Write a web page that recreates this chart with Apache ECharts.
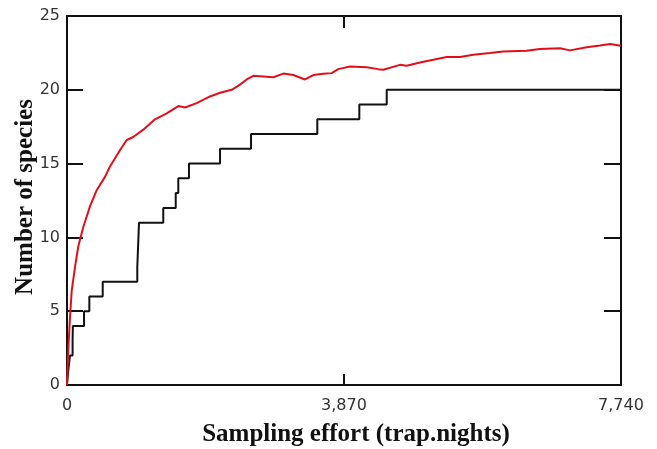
<!DOCTYPE html>
<html>
<head>
<meta charset="utf-8">
<script src="https://cdn.jsdelivr.net/npm/echarts@6/dist/echarts.min.js"></script>
<style>html,body{margin:0;padding:0;background:#fff}#c{width:657px;height:449px}</style>
</head>
<body>
<div id="c"></div>
<script>
// Observed species accumulation (step curve)
var observedEffort = [0, 18, 42, 78, 82, 238, 312, 499, 982, 1006, 1345, 1519, 1555, 1704, 2138, 2571, 3497, 4084, 4467, 7740];
var observedSpecies = [0, 1, 2, 3, 4, 5, 6, 7, 8, 11, 12, 13, 14, 15, 16, 17, 18, 19, 20, 20];
// Estimated species richness curve (red)
var estimatedEffort = [0, 18, 42, 66, 112, 158, 228, 321, 415, 531, 601, 740, 834, 926, 1066, 1229, 1393, 1555, 1649, 1812, 1998, 2138, 2301, 2417, 2511, 2603, 2743, 2882, 3022, 3162, 3325, 3441, 3581, 3698, 3790, 3954, 4187, 4349, 4419, 4652, 4746, 4932, 5117, 5305, 5491, 5676, 5909, 6095, 6422, 6608, 6888, 7027, 7261, 7447, 7586, 7740];
var estimatedSpecies = [0, 2.4, 4.6, 6.4, 8.0, 9.4, 10.7, 12.1, 13.2, 14.1, 14.8, 15.9, 16.6, 16.8, 17.3, 18.0, 18.4, 18.9, 18.8, 19.1, 19.55, 19.8, 20.0, 20.35, 20.7, 20.95, 20.9, 20.85, 21.1, 21.0, 20.7, 21.0, 21.08, 21.13, 21.4, 21.58, 21.53, 21.4, 21.36, 21.69, 21.63, 21.85, 22.03, 22.22, 22.22, 22.37, 22.49, 22.6, 22.64, 22.76, 22.82, 22.67, 22.89, 23.0, 23.1, 22.98];
var xTicks = [0, 3870, 7740];
var yTicks = [0, 5, 10, 15, 20, 25];
var xTitle = 'Sampling effort (trap.nights)';
var yTitle = 'Number of species';

function zip(a, b) { return a.map(function (v, i) { return [v, b[i]]; }); }

var chart = echarts.init(document.getElementById('c'), null, {renderer: 'canvas'});
var axisLineStyle = {color: '#111', width: 2};
var labelStyle = {color: '#333', fontFamily: 'DejaVu Sans', fontSize: 16};
var titleStyle = {color: '#111', fontFamily: 'Liberation Serif', fontWeight: 'bold', fontSize: 25};
var xMax = xTicks[xTicks.length - 1], xInt = xTicks[1] - xTicks[0];
var yMax = yTicks[yTicks.length - 1], yInt = yTicks[1] - yTicks[0];

chart.setOption({
  animation: false,
  backgroundColor: '#fff',
  grid: {left: 67, right: 36, top: 16, bottom: 64, containLabel: false, outerBoundsMode: 'none'},
  xAxis: [{
    type: 'value', position: 'bottom', min: 0, max: xMax, interval: xInt,
    axisLine: {onZero: false, lineStyle: axisLineStyle},
    axisTick: {inside: true, length: 11, lineStyle: axisLineStyle},
    splitLine: {show: false},
    axisLabel: Object.assign({margin: 13, formatter: function (v) { return v.toLocaleString('en-US'); }}, labelStyle),
    name: xTitle, nameLocation: 'middle', nameGap: 37, nameMoveOverlap: false,
    nameTextStyle: Object.assign({padding: [0, 0, 0, 24]}, titleStyle)
  }, {
    type: 'value', position: 'top', min: 0, max: xMax, interval: xInt,
    axisLine: {onZero: false, lineStyle: axisLineStyle},
    axisTick: {inside: true, length: 12, lineStyle: axisLineStyle},
    splitLine: {show: false}, axisLabel: {show: false}
  }],
  yAxis: [{
    type: 'value', position: 'left', min: 0, max: yMax, interval: yInt,
    axisLine: {show: true, onZero: false, lineStyle: axisLineStyle},
    axisTick: {show: true, inside: true, length: 16, lineStyle: axisLineStyle},
    splitLine: {show: false},
    axisLabel: Object.assign({margin: 7}, labelStyle),
    name: yTitle, nameLocation: 'middle', nameGap: 29, nameMoveOverlap: false,
    nameTextStyle: Object.assign({padding: [0, 0, 0, 7]}, titleStyle)
  }, {
    type: 'value', position: 'right', min: 0, max: yMax, interval: yInt,
    axisLine: {show: true, onZero: false, lineStyle: axisLineStyle},
    axisTick: {show: true, inside: true, length: 17, lineStyle: axisLineStyle},
    splitLine: {show: false}, axisLabel: {show: false}
  }],
  series: [{
    name: 'Observed', type: 'line', step: 'end', showSymbol: false, symbol: 'none',
    data: zip(observedEffort, observedSpecies),
    lineStyle: {color: '#111', width: 2}, z: 3
  }, {
    name: 'Estimated', type: 'line', showSymbol: false, symbol: 'none',
    data: zip(estimatedEffort, estimatedSpecies),
    lineStyle: {color: '#e0101a', width: 2}, z: 4
  }]
});
</script>
</body>
</html>
